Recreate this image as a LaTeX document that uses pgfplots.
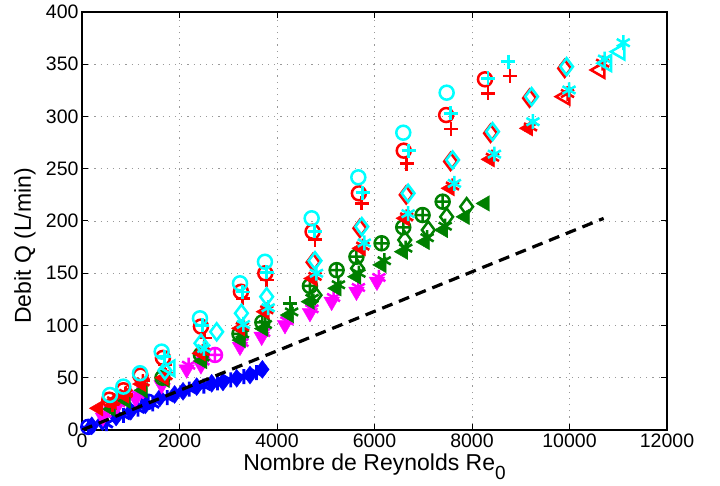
\documentclass[border=0pt]{standalone}
\usepackage{fontspec}
\setmainfont{Liberation Sans}
\usepackage{pgfplots}
\pgfplotsset{compat=1.18}
\definecolor{mgreen}{rgb}{0,0.5,0}
\definecolor{mcyan}{rgb}{0,1,1}
\definecolor{mmag}{rgb}{1,0,1}
\definecolor{mred}{rgb}{1,0,0}
\definecolor{mblue}{rgb}{0,0,1}
\begin{document}
\begin{tikzpicture}
\path[use as bounding box] (-82pt,-56pt) rectangle (638pt,430pt);
\begin{axis}[
  at={(0pt,0pt)}, anchor=south west,
  width=585pt, height=418pt, scale only axis,
  xmin=0, xmax=12000, ymin=0, ymax=400,
  xtick={0,2000,...,12000}, ytick={0,50,...,400},
  scaled x ticks=false,
  /pgf/number format/assume math mode=true,
  /pgf/number format/set thousands separator={},
  tick label style={font=\fontsize{19.5}{20}\selectfont},
  label style={font=\fontsize{23}{26}\selectfont},
  tick align=inside, major tick length=6pt,
  grid=major, major grid style={gray!80, line width=0.8pt, dash pattern=on 1.2pt off 5pt},
  axis line style={line width=1.2pt},
  every tick/.style={black, line width=1pt},
  xlabel={Nombre de Reynolds Re\raisebox{-9pt}{\fontsize{19}{19}\selectfont 0}},
  xlabel style={at={(rel axis cs:0.5,0)}, anchor=base, yshift=-41pt},
  clip mode=individual,
]
% blue
\addplot[only marks, color=mblue, mark=diamond*, mark size=9pt] coordinates {
(200,4) (420,8) (700,12.5) (1000,18) (1300,24) (1600,31) (1900,34) (2072,37) (2352,41.5) (2660,44.7) (2892,46) (3173,49.5) (3446,52.6) (3700,58)};
\addplot[only marks, color=mblue, mark=asterisk, mark size=7.5pt, mark options={line width=2.8pt}] coordinates {
(500,6) (850,14) (1150,20) (1450,25) (1750,31) (2200,39) (2500,42) (2780,45) (3050,48) (3320,51) (3580,55)};
\addplot[only marks, color=mblue, mark=oplus, mark size=7pt, mark options={line width=2.5pt}] coordinates {
(130,3) (1360,27)};
% magenta
\addplot[only marks, color=mmag, mark=triangle*, mark size=9pt, mark options={rotate=180}] coordinates {
(430,12) (711,22) (1100,30) (1634,43) (2147,58) (2440,62) (3241,79.7) (3686,89.3) (4164,100.5) (4676,112) (5121,122.8) (5630,132.4) (6050,142)};
\addplot[only marks, color=mmag, mark=asterisk, mark size=7.5pt, mark options={line width=2.5pt}] coordinates {
(470,16) (750,26) (1140,34) (1674,47) (2187,62) (2480,66) (3281,83.7) (3726,93.3) (4204,104.5) (4716,116) (5161,126.8) (5670,136.4) (6090,146)};
\addplot[only marks, color=mmag, mark=oplus, mark size=7pt, mark options={line width=2.5pt}] coordinates {
(2728,71.8)};
% green
\addplot[only marks, color=mgreen, mark=triangle*, mark size=9pt, mark options={rotate=90}] coordinates {
(600,20) (900,28) (1250,38) (1700,48) (2470,66) (3260,86) (3720,97) (4250,110) (4676,122.8) (5223,135.6) (5630,146.7) (6146,158) (6590,170.6) (7034,180) (7411,191.4) (7855,204) (8266,216.8)};
\addplot[only marks, color=mgreen, mark=asterisk, mark size=7.5pt, mark options={line width=2.5pt}] coordinates {
(1700,52) (2480,70) (3290,92) (3760,101) (4300,113) (4720,126) (5260,139) (5680,150) (6200,162) (6640,174) (7080,184) (7450,195)};
\addplot[only marks, color=mgreen, mark=oplus, mark size=7pt, mark options={line width=2.5pt}] coordinates {
(1650,50) (2440,72) (3230,92) (3700,103) (4676,137.8) (5223,153) (5630,165.8) (6146,178.7) (6590,194) (6986,205.7) (7398,218.5)};
\addplot[only marks, color=mgreen, mark=diamond, mark size=8.5pt, mark options={line width=2.5pt}] coordinates {
(4780,129) (5650,154.7) (6620,181.8) (7103,191.4) (7480,204) (7890,213.7)};
\addplot[only marks, color=mgreen, mark=+, mark size=7pt, mark options={line width=2.8pt}] coordinates {
(4266,121.2)};
% red
\addplot[only marks, color=mred, mark=triangle*, mark size=9pt, mark options={rotate=90}] coordinates {
(335,20.8) (620,27) (870,33) (1220,44) (1680,50) (2440,73.4) (3250,97.3) (3753,113.2) (4730,145) (5720,173.9) (6624,202.6) (7548,231.3) (8368,259) (9154,288.7)};
\addplot[only marks, color=mred, mark=triangle, mark size=9pt, mark options={rotate=90, line width=2.5pt}] coordinates {
(9906,319) (10624,344.5)};
\addplot[only marks, color=mred, mark=asterisk, mark size=7.5pt, mark options={line width=2.5pt}] coordinates {
(650,28) (900,35) (1250,46) (1720,52) (2480,75) (3290,99) (3790,115) (4780,147) (5760,176) (6660,204) (7600,233.5) (8420,261) (9200,290) (9960,322) (10680,351)};
\addplot[only marks, color=mred, mark=diamond, mark size=8.5pt, mark options={line width=2.5pt}] coordinates {
(4740,160.5) (5700,193) (6650,225) (7560,257) (8380,284) (9180,317.5) (9900,346)};
\addplot[only marks, color=mred, mark=o, mark size=7pt, mark options={line width=2.5pt}] coordinates {
(560,29) (850,38) (1200,52) (1660,69) (2440,99) (3260,132.3) (3760,150) (4730,189.8) (5680,226.5) (6600,267.3) (7470,301.4) (8266,335.6)};
\addplot[only marks, color=mred, mark=+, mark size=7pt, mark options={line width=2.8pt}] coordinates {
(620,24) (900,34) (1250,47) (1700,63) (2520,88) (3300,126) (3790,143.5) (4780,182) (5740,217) (6660,255) (7570,288) (8330,322.2) (8778,338.8)};
% cyan
\addplot[only marks, color=mcyan, mark=triangle, mark size=9pt, mark options={rotate=90, line width=2.5pt}] coordinates {
(1805,59) (10762,351) (11034,362)};
\addplot[only marks, color=mcyan, mark=asterisk, mark size=7.5pt, mark options={line width=2.5pt}] coordinates {
(2500,78) (3310,101) (3820,117) (4810,150) (5790,179) (6690,207) (7640,236) (8460,264) (9250,295) (9990,325.4) (10720,355) (11103,370.6)};
\addplot[only marks, color=mcyan, mark=diamond, mark size=8.5pt, mark options={line width=2.5pt}] coordinates {
(1700,57) (2440,83) (2763,94) (3270,111.7) (3788,127.6) (4780,162) (5740,194.6) (6690,226.5) (7603,258.4) (8422,285.5) (9223,319) (9941,347.7)};
\addplot[only marks, color=mcyan, mark=+, mark size=7pt, mark options={line width=2.8pt}] coordinates {
(1690,70) (2470,100) (3300,132) (3790,151) (4770,190) (5760,227) (6700,267.3) (7560,303) (8330,336.5) (8744,352.5)};
\addplot[only marks, color=mcyan, mark=o, mark size=7pt, mark options={line width=2.5pt}] coordinates {
(574,33.5) (848,41.5) (1190,54.3) (1634,75) (2420,106.9) (3241,140.4) (3753,161) (4711,202.6) (5668,241.8) (6590,284.5) (7480,322.8)};
% dashed line
\addplot[black, line width=3.2pt, dash pattern=on 11pt off 7pt, no marks] coordinates {
(0,0) (10700,202.5)};
\end{axis}
\node[rotate=90, font=\fontsize{23}{26}\selectfont] at (-57pt,184pt) {Debit Q (L/min)};
\end{tikzpicture}
\end{document}
